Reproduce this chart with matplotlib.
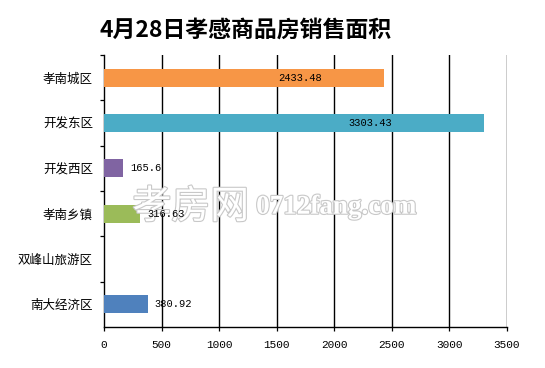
import matplotlib
matplotlib.use("Agg")
import matplotlib.pyplot as plt
import matplotlib.patheffects as pe

# ------------------ DATA ------------------ #
TITLE = "4月28日孝感商品房销售面积"
districts = ["孝南城区", "开发东区", "开发西区", "孝南乡镇", "双峰山旅游区", "南大经济区"]
areas = [2433.48, 3303.43, 165.6, 316.63, 0, 380.92]
bar_colors = ["#F79646", "#4BACC6", "#8064A2", "#9BBB59", "#4F81BD", "#4F81BD"]
x_ticks = [0, 500, 1000, 1500, 2000, 2500, 3000, 3500]

CJK = ["Noto Sans CJK SC", "DejaVu Sans"]
MONO = ["Liberation Mono", "DejaVu Sans Mono"]

plt.rcParams.update({"font.family": CJK})

fig = plt.figure(figsize=(5.45, 3.68), dpi=100)
ax = fig.add_axes([0.1908, 0.1114, 0.7395, 0.7391])

pos = list(range(len(districts)))
ax.barh(pos, areas, height=0.4, color=bar_colors, zorder=3)

ax.set_xlim(0, 3500)
ax.set_ylim(len(districts) - 0.5, -0.5)

# vertical grid lines, black like the original
for xt in x_ticks[1:]:
    ax.axvline(xt, color="black", linewidth=1.0, zorder=2)

ax.set_xticks(x_ticks)
ax.set_xticklabels([str(t) for t in x_ticks], family=MONO, fontsize=8)
ax.tick_params(axis="x", direction="out", length=3, width=0.9, pad=6)

ax.set_yticks(pos)
ax.set_yticklabels(districts, fontsize=9)
ax.set_yticks([p + 0.5 for p in pos[:-1]] + [-0.5], minor=True)
ax.tick_params(axis="y", which="major", length=0, pad=8)
ax.tick_params(axis="y", which="minor", direction="out", length=3, width=0.9)

for side in ["top", "right"]:
    ax.spines[side].set_visible(False)
for side in ["left", "bottom"]:
    ax.spines[side].set_linewidth(1.0)
    ax.spines[side].set_color("black")

# watermark (above grid and bars, below value labels)
halo = [pe.withStroke(linewidth=1.6, foreground="#c8c8c8")]
ax.text(0.243, 0.437, "孝房网", fontsize=28, color="white", ha="left",
        va="center", zorder=4, path_effects=halo, transform=fig.transFigure)
ax.text(0.470, 0.437, "0712fang.com", fontsize=19.5, color="white",
        family=["Liberation Serif", "DejaVu Serif"], fontweight="bold",
        ha="left", va="center", zorder=4, path_effects=halo,
        transform=fig.transFigure)

# value labels
for p, v in zip(pos, areas):
    if v <= 0:
        continue
    if v > 1000:
        ax.text(v * 0.7, p, f"{v:g}", ha="center", va="center",
                family=MONO, fontsize=7.5, zorder=5)
    else:
        ax.text(v + 60, p, f"{v:g}", ha="left", va="center",
                family=MONO, fontsize=7.5, zorder=5)

fig.text(0.183, 0.918, TITLE, fontsize=16.5, fontweight="bold",
         ha="left", va="center")

fig.savefig("out.png", dpi=100)
